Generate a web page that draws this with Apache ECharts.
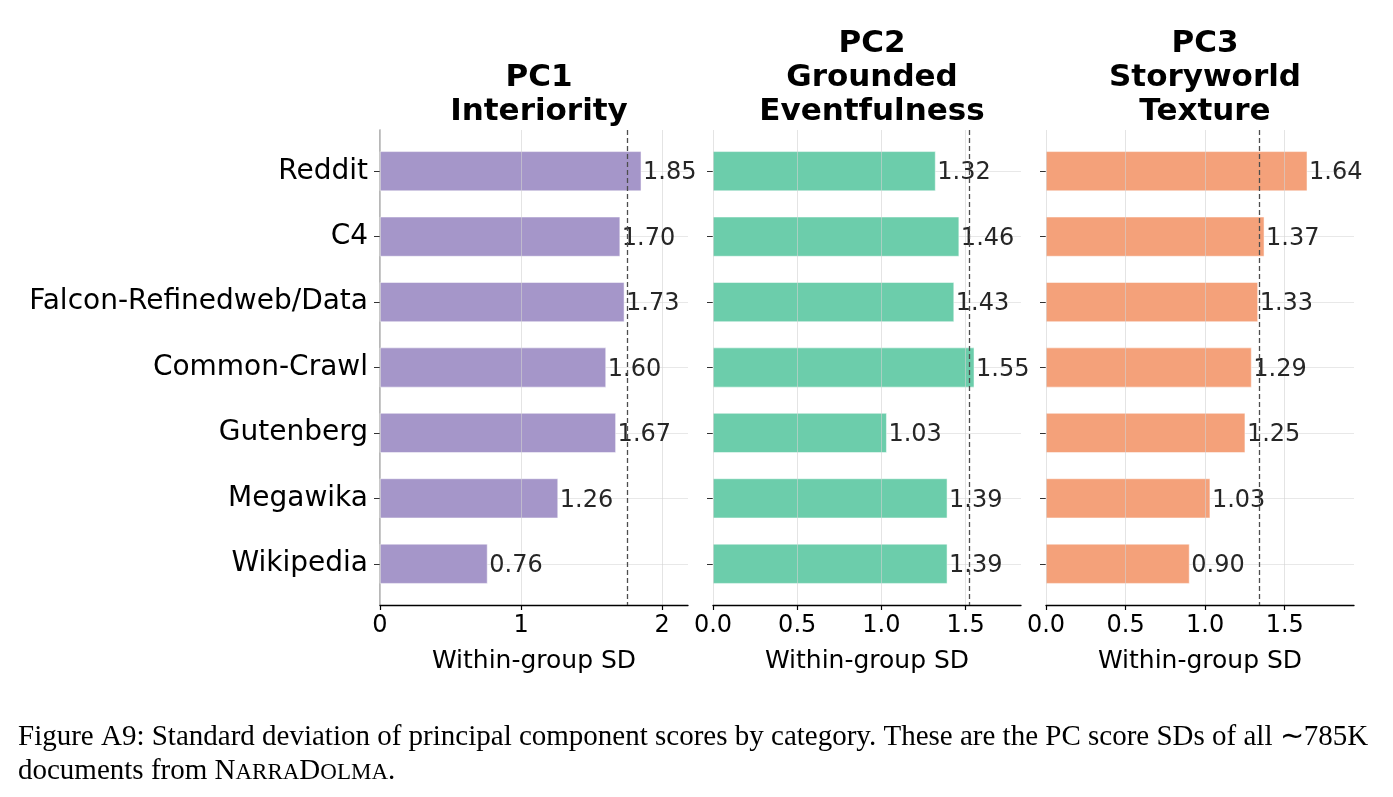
<!DOCTYPE html>
<html>
<head>
<meta charset="utf-8">
<script src="https://cdn.jsdelivr.net/npm/echarts@6/dist/echarts.min.js"></script>
<style>
  html, body { margin: 0; padding: 0; background: #fff; }
  #chart { width: 1393px; height: 797px; }
</style>
</head>
<body>
<div id="chart"></div>
<script>
// categories, top to bottom
var categories = ['Reddit', 'C4', 'Falcon-Refinedweb/Data', 'Common-Crawl', 'Gutenberg', 'Megawika', 'Wikipedia'];

// within-group SD per category
var pc1Values = [1.85, 1.70, 1.73, 1.60, 1.67, 1.26, 0.76];
var pc2Values = [1.32, 1.46, 1.43, 1.55, 1.03, 1.39, 1.39];
var pc3Values = [1.64, 1.37, 1.33, 1.29, 1.25, 1.03, 0.90];

// dashed reference line per panel (overall SD)
var refLines = [1.755, 1.525, 1.34];

var panelTitles = ['PC1\nInteriority', 'PC2\nGrounded\nEventfulness', 'PC3\nStoryworld\nTexture'];
var xTicks1 = [0, 1, 2];
var xTicks2 = [0, 0.5, 1.0, 1.5];
var xTicks3 = [0, 0.5, 1.0, 1.5];
var xAxisName = 'Within-group SD';
var caption1 = 'Figure A9: Standard deviation of principal component scores by category. These are the PC score SDs of all \u223c785K';

var colors = ['#a596c9', '#6ccdab', '#f4a17a'];
var FONT = 'DejaVu Sans';

var chart = echarts.init(document.getElementById('chart'), null, { renderer: 'canvas' });

var panels = [
  { values: pc1Values, ticks: xTicks1, fmt: function (v) { return String(v); } },
  { values: pc2Values, ticks: xTicks2, fmt: function (v) { return v.toFixed(1); } },
  { values: pc3Values, ticks: xTicks3, fmt: function (v) { return v.toFixed(1); } }
];
var gridLefts = [380, 713, 1046];
var catIdx = categories.map(function (c, i) { return i; });

var grids = [], xAxes = [], yAxes = [], series = [], titles = [];

panels.forEach(function (p, k) {
  grids.push({ left: gridLefts[k], top: 130, width: 308, height: 475, containLabel: false });

  xAxes.push({
    type: 'value', gridIndex: k, min: 0, max: Math.max.apply(null, p.values) * 1.18,
    z: 2,
    name: xAxisName, nameLocation: 'middle', nameGap: 44,
    nameTextStyle: { fontFamily: FONT, fontSize: 25, color: '#000' },
    axisLine: { show: true, onZero: false, lineStyle: { color: '#000', width: 1.3 } },
    axisTick: { show: true, length: 5, customValues: p.ticks, lineStyle: { color: '#000', width: 1.2 } },
    axisLabel: { customValues: p.ticks, formatter: p.fmt, fontFamily: FONT, fontSize: 24, color: '#000', margin: 9 },
    splitLine: { show: true, lineStyle: { color: 'rgba(210,210,210,0.6)', width: 1 } }
  });

  yAxes.push({
    type: 'value', gridIndex: k, inverse: true, min: -0.63, max: 6.63,
    axisLine: { show: k === 0, onZero: false, lineStyle: { color: '#a6a6a6', width: 1.6 } },
    axisTick: { show: true, length: 6, customValues: catIdx, lineStyle: { color: '#333', width: 1 } },
    axisLabel: {
      show: k === 0, customValues: catIdx, margin: 12, padding: [4, 0, 0, 0],
      formatter: function (v) { return categories[Math.round(v)]; },
      fontFamily: FONT, fontSize: 28, color: '#000'
    },
    splitLine: { show: true, lineStyle: { color: '#e8e8e8', width: 1 } }
  });

  var data = p.values.map(function (v, i) { return [v, i]; });

  // bars
  series.push({
    type: 'custom', xAxisIndex: k, yAxisIndex: k, z: 1,
    encode: { x: 0, y: 1 },
    data: data,
    renderItem: (function (color) {
      return function (params, api) {
        var s = api.coord([0, api.value(1)]);
        var e = api.coord([api.value(0), api.value(1)]);
        var h = Math.abs(api.size([0, 0.6])[1]);
        return {
          type: 'rect',
          shape: { x: s[0], y: s[1] - h / 2, width: e[0] - s[0], height: h },
          style: { fill: color, stroke: 'rgba(255,255,255,0.5)', lineWidth: 1 }
        };
      };
    })(colors[k])
  });

  // dashed reference line
  series.push({
    type: 'line', xAxisIndex: k, yAxisIndex: k, z: 3, data: [],
    markLine: {
      silent: true, symbol: 'none', label: { show: false },
      lineStyle: { type: [5, 3], color: '#4d4d4d', width: 1.3 },
      data: [{ xAxis: refLines[k] }]
    }
  });

  // value labels
  series.push({
    type: 'custom', xAxisIndex: k, yAxisIndex: k, z: 4,
    encode: { x: 0, y: 1 },
    data: data,
    renderItem: function (params, api) {
      var e = api.coord([api.value(0), api.value(1)]);
      return {
        type: 'text', x: e[0] + 2, y: e[1] + 2,
        style: {
          text: api.value(0).toFixed(2), fill: '#262626',
          font: '24px "' + FONT + '"', align: 'left', verticalAlign: 'middle'
        }
      };
    }
  });

  var nLines = panelTitles[k].split('\n').length;
  titles.push({
    text: panelTitles[k], left: gridLefts[k] + 154, top: 124 - nLines * 34, textAlign: 'center',
    textStyle: { fontFamily: FONT, fontWeight: 'bold', fontSize: 31, lineHeight: 34, color: '#000' }
  });
});

chart.setOption({
  backgroundColor: '#fff',
  animation: false,
  title: titles,
  grid: grids,
  xAxis: xAxes,
  yAxis: yAxes,
  series: series,
  graphic: [{
    type: 'text', left: 18, top: 720,
    style: {
      text: '{n|' + caption1 + '}\n{n|documents from }{n|N}{s|ARRA}{n|D}{s|OLMA}{n|.}',
      font: '29px "Liberation Serif"', fill: '#000', lineHeight: 34,
      rich: {
        n: { fontFamily: 'Liberation Serif', fontSize: 29, lineHeight: 34 },
        s: { fontFamily: 'Liberation Serif', fontSize: 23, lineHeight: 34, height: 30, verticalAlign: 'bottom' }
      }
    }
  }]
});
</script>
</body>
</html>
